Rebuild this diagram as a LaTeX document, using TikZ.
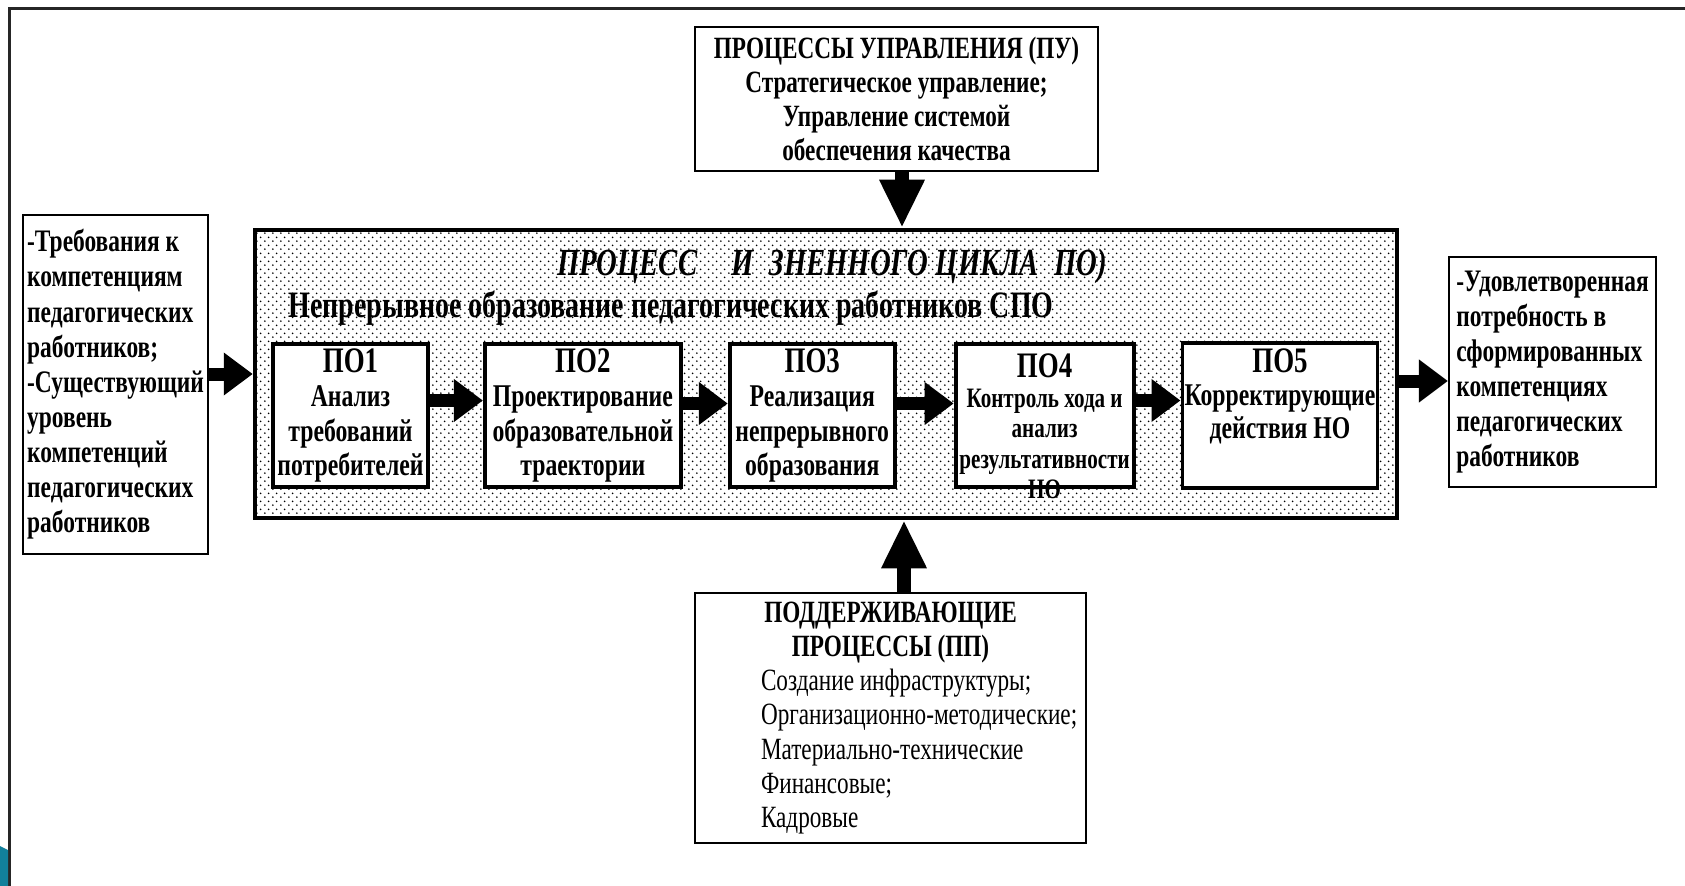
\documentclass[tikz,border=0pt]{standalone}
\usepackage{fontspec}
\setmainfont{Liberation Serif}[FakeStretch=0.75]
\usetikzlibrary{arrows.meta, positioning, patterns.meta}

\definecolor{slideteal}{RGB}{18,128,155}
\newcommand{\polab}[1]{{\fontsize{10.2}{11}\selectfont #1}}

% точечная заливка
\tikzdeclarepattern{
  name=lcdots,
  type=uncolored,
  bottom left={(0pt,0pt)},
  top right={(2.2pt,2.2pt)},
  tile size={(2.2pt,2.2pt)},
  code={
    \fill (0.55pt,0.55pt) circle [radius=0.27pt];
    \fill (1.65pt,1.65pt) circle [radius=0.27pt];
  }
}

\begin{document}
\begin{tikzpicture}[
    x=0.1mm, y=-0.1mm,
    box/.style={draw, line width=0.6pt, fill=white, inner xsep=0.3mm, inner ysep=0.5mm, font=\fontsize{8.9}{10}\selectfont\bfseries},
    pobox/.style={draw, line width=1.1pt, fill=white, align=center, inner xsep=0pt, inner ysep=0.5mm, minimum height=14.3mm, font=\fontsize{9}{9.7}\selectfont\bfseries},
    harrow/.style={line width=1.3mm, -{Triangle[length=2.9mm, width=4.1mm]}},
    varrow/.style={line width=1.35mm, -{Triangle[length=4.8mm, width=4.2mm]}}
]
    \useasboundingbox (0,0) rectangle (1685,886);
    \fill[white] (0,0) rectangle (1685,886);

    % рамка слайда
    \draw[line width=0.3mm, black!85] (9,886) -- (9,9) -- (1685,9);
    \fill[slideteal] (0,846) -- (8,850) -- (8,886) -- (0,886) -- cycle;

    % процессы управления
    \node[box, align=center, minimum width=40.3mm, minimum height=14.4mm, font=\fontsize{8.8}{9.7}\selectfont\bfseries] (pu) at (896.5,99)
        {ПРОЦЕССЫ УПРАВЛЕНИЯ (ПУ)\\ Стратегическое управление;\\ Управление системой\\ обеспечения качества};

    % входы и выходы
    \node[box, align=left, minimum width=18.5mm, minimum height=33.9mm] (req) at (115.5,384.5)
        {-Требования к\\ компетенциям\\ педагогических\\ работников;\\ -Существующий\\ уровень\\ компетенций\\ педагогических\\ работников};
    \node[box, align=left, minimum width=20.7mm, minimum height=23mm] (res) at (1552.5,372)
        {-Удовлетворенная\\ потребность в\\ сформированных\\ компетенциях\\ педагогических\\ работников};

    % процесс жизненного цикла
    \node[draw, line width=0.45mm, pattern=lcdots, minimum width=114.2mm, minimum height=28.8mm] (lc) at (826,374) {};
    \node[font=\fontsize{10.9}{13}\selectfont\bfseries\itshape] (lctitle) at (832,266)
        {ПРОЦЕСС\hspace{0.9em}И\hspace{0.4em}ЗНЕННОГО ЦИКЛА\hspace{0.4em}ПО)};
    \node[anchor=west, inner sep=0pt, font=\fontsize{10.6}{13}\selectfont\bfseries] (lcsub) at (288,308)
        {Непрерывное образование педагогических работников СПО};

    % подпроцессы ПО1 -- ПО5
    \node[pobox, minimum width=15.5mm] (po1) at (350.5,415.5)
        {\polab{ПО1}\\ Анализ\\ требований\\ потребителей};
    \node[pobox, minimum width=19.6mm, right=5.3mm of po1] (po2)
        {\polab{ПО2}\\ Проектирование\\ образовательной\\ траектории};
    \node[pobox, minimum width=16.5mm, minimum height=13.5mm, right=4.5mm of po2] (po3)
        {\polab{ПО3}\\ Реализация\\ непрерывного\\ образования};
    \node[pobox, minimum width=17.8mm, inner ysep=-1.6mm, right=5.7mm of po3, font=\fontsize{8}{8.6}\selectfont\bfseries] (po4)
        {\polab{\rule{0pt}{4.5mm}ПО4}\\ Контроль хода и\\ анализ\\ результативности\\ НО};
    \node[pobox, minimum width=19.5mm, minimum height=14.5mm, right=4.5mm of po4, font=\fontsize{9}{9.4}\selectfont\bfseries] (po5)
        {\polab{ПО5}\\ Корректирующие\\ действия НО\\ \strut};

    % поддерживающие процессы
    \node[box, minimum width=39.1mm, minimum height=25mm, text width=39.1mm, inner xsep=0pt, align=left, font=\fontsize{8.8}{9.7}\selectfont] (pp) at (890.5,718)
        {\spaceskip=0pt\xspaceskip=0pt
         {\centering\bfseries ПОДДЕРЖИВАЮЩИЕ\\ ПРОЦЕССЫ (ПП)\par}
         {\leftskip=6.6mm\rightskip=0pt plus 1fil\exhyphenpenalty=10000
         Создание инфраструктуры;\\ Организационно-методические;\\ Материально-технические\\ Финансовые;\\ Кадровые\par}};

    % связи
    \coordinate (puout) at ([xshift=0.55mm]pu.south);
    \coordinate (ppout) at ([xshift=1.35mm]pp.north);
    \draw[varrow] (puout) -- (puout |- lc.north);
    \draw[varrow] (ppout) -- (ppout |- lc.south);
    \draw[harrow] (req.east |- lc.west) -- (lc.west);
    \draw[harrow] ([yshift=-0.7mm]lc.east) -- ([yshift=-0.7mm]lc.east -| res.west);
    \draw[harrow] ([yshift=1.5mm]po1.east) -- ([yshift=1.5mm]po2.west);
    \draw[harrow] ([yshift=1.2mm]po2.east) -- ([yshift=1.2mm]po3.west);
    \draw[harrow] ([yshift=1.2mm]po3.east) -- ([yshift=1.2mm]po4.west);
    \draw[harrow] ([yshift=1.5mm]po4.east) -- ([yshift=1.5mm]po5.west);
\end{tikzpicture}
\end{document}
